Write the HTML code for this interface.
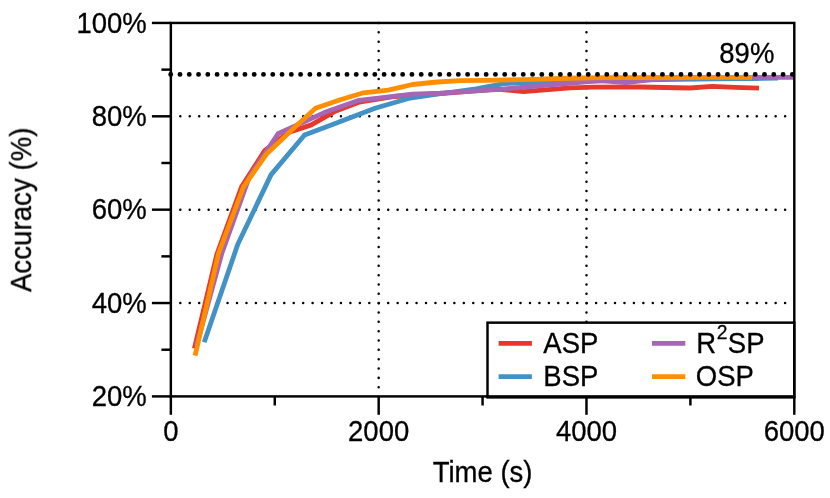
<!DOCTYPE html>
<html><head><meta charset="utf-8"><title>chart</title>
<style>html,body{margin:0;padding:0;background:#fff;}body{width:830px;height:498px;overflow:hidden;position:relative;font-family:"Liberation Sans",sans-serif;}</style>
</head><body>
<svg width="830" height="498" viewBox="0 0 830 498" style="position:absolute;left:0;top:0;display:block;will-change:transform">
<rect width="830" height="498" fill="#fff"/>
<line x1="170.85" y1="116.31" x2="794.3" y2="116.31" stroke="#000" stroke-width="2.5" stroke-linecap="round" stroke-dasharray="0.01 9.44"/>
<line x1="170.85" y1="209.67" x2="794.3" y2="209.67" stroke="#000" stroke-width="2.5" stroke-linecap="round" stroke-dasharray="0.01 9.44"/>
<line x1="170.85" y1="303.04" x2="794.3" y2="303.04" stroke="#000" stroke-width="2.5" stroke-linecap="round" stroke-dasharray="0.01 9.44"/>
<line x1="378.67" y1="22.95" x2="378.67" y2="396.4" stroke="#000" stroke-width="2.5" stroke-linecap="round" stroke-dasharray="0.01 9.33"/>
<line x1="586.48" y1="22.95" x2="586.48" y2="396.4" stroke="#000" stroke-width="2.5" stroke-linecap="round" stroke-dasharray="0.01 9.33"/>
<clipPath id="c"><rect x="170.85" y="22.95" width="623.4499999999999" height="373.45"/></clipPath>
<g clip-path="url(#c)" fill="none" stroke-width="4.8" stroke-linejoin="round" stroke-linecap="butt">
<polyline points="194.4,348.6 216.9,254.3 241.6,186.8 264.9,150.4 288.5,132.5 311.3,124.9 334.5,111.6 359.0,102.2 395.0,96.5 447.0,93.2 497.0,89.2 523.6,91.6 570.0,87.8 593.7,87.2 640.0,87.0 690.0,88.0 712.0,86.4 735.0,87.4 759.0,88.1" stroke="#E8382B"/>
<polyline points="204.2,342.3 237.8,244.3 271.1,174.6 304.6,135.0 338.5,122.2 375.0,108.2 408.5,98.5 442.0,93.5 476.0,88.8 504.0,83.6 542.0,82.0 576.0,81.3 610.0,80.7 644.0,79.8 680.0,79.4 715.0,78.9 752.0,78.5 778.0,78.2" stroke="#4292C6"/>
<polyline points="196.4,346.0 221.6,254.0 249.5,176.5 278.0,133.8 324.3,112.6 359.0,100.3 412.5,94.1 440.0,93.2 500.0,89.4 560.0,84.0 600.0,80.7 626.0,82.5 660.0,78.6 700.0,77.6 794.0,77.4" stroke="#A665B5"/>
<polyline points="195.1,355.6 218.5,253.5 243.4,187.0 266.3,154.3 291.0,130.8 315.5,108.3 340.3,99.7 363.6,92.8 388.2,90.2 412.6,84.5 437.0,82.0 460.6,80.6 485.5,80.3 509.7,79.9 534.0,79.3 558.0,78.5 582.0,78.0 606.0,77.7 631.0,77.6 655.0,77.5 679.0,77.5 703.0,77.4 728.0,77.4 752.0,77.4" stroke="#FF8F00"/>
</g>
<rect x="487.5" y="322.65" width="306.79999999999995" height="74.75" fill="#fff" stroke="#000" stroke-width="2.45"/>
<line x1="498.6" y1="343.4" x2="531.9" y2="343.4" stroke="#E8382B" stroke-width="4.9"/>
<line x1="498.6" y1="376.6" x2="531.9" y2="376.6" stroke="#4292C6" stroke-width="4.9"/>
<line x1="652.0" y1="343.4" x2="685.3" y2="343.4" stroke="#A665B5" stroke-width="4.9"/>
<line x1="652.0" y1="376.6" x2="685.3" y2="376.6" stroke="#FF8F00" stroke-width="4.9"/>
<rect x="170.85" y="22.95" width="623.4499999999999" height="373.45" fill="none" stroke="#000" stroke-width="2.45"/>
<line x1="151.9" y1="22.95" x2="170.85" y2="22.95" stroke="#000" stroke-width="2.45"/>
<line x1="151.9" y1="116.31" x2="170.85" y2="116.31" stroke="#000" stroke-width="2.45"/>
<line x1="151.9" y1="209.67" x2="170.85" y2="209.67" stroke="#000" stroke-width="2.45"/>
<line x1="151.9" y1="303.04" x2="170.85" y2="303.04" stroke="#000" stroke-width="2.45"/>
<line x1="151.9" y1="396.40" x2="170.85" y2="396.40" stroke="#000" stroke-width="2.45"/>
<line x1="161.4" y1="69.63" x2="170.85" y2="69.63" stroke="#000" stroke-width="2.45"/>
<line x1="161.4" y1="162.99" x2="170.85" y2="162.99" stroke="#000" stroke-width="2.45"/>
<line x1="161.4" y1="256.36" x2="170.85" y2="256.36" stroke="#000" stroke-width="2.45"/>
<line x1="161.4" y1="349.72" x2="170.85" y2="349.72" stroke="#000" stroke-width="2.45"/>
<line x1="170.85" y1="396.4" x2="170.85" y2="414.8" stroke="#000" stroke-width="2.45"/>
<line x1="378.67" y1="396.4" x2="378.67" y2="414.8" stroke="#000" stroke-width="2.45"/>
<line x1="586.48" y1="396.4" x2="586.48" y2="414.8" stroke="#000" stroke-width="2.45"/>
<line x1="794.30" y1="396.4" x2="794.30" y2="414.8" stroke="#000" stroke-width="2.45"/>
<line x1="274.76" y1="396.4" x2="274.76" y2="405.5" stroke="#000" stroke-width="2.45"/>
<line x1="482.57" y1="396.4" x2="482.57" y2="405.5" stroke="#000" stroke-width="2.45"/>
<line x1="690.39" y1="396.4" x2="690.39" y2="405.5" stroke="#000" stroke-width="2.45"/>
<line x1="170.7" y1="74.4" x2="794.3" y2="74.4" stroke="#000" stroke-width="4.9" stroke-linecap="round" stroke-dasharray="0.01 9.268"/>
<g opacity="0.999" font-family="Liberation Sans, sans-serif" font-size="27.5px" fill="#000" stroke="#000" stroke-width="0.3">
<text transform="translate(146.70,32.50) scale(1,1.04)" text-anchor="end">100%</text>
<text transform="translate(146.70,125.86) scale(1,1.04)" text-anchor="end">80%</text>
<text transform="translate(146.70,219.22) scale(1,1.04)" text-anchor="end">60%</text>
<text transform="translate(146.70,312.59) scale(1,1.04)" text-anchor="end">40%</text>
<text transform="translate(146.70,405.95) scale(1,1.04)" text-anchor="end">20%</text>
<text transform="translate(170.85,440.50) scale(1,1.04)" text-anchor="middle">0</text>
<text transform="translate(378.67,440.50) scale(1,1.04)" text-anchor="middle">2000</text>
<text transform="translate(586.48,440.50) scale(1,1.04)" text-anchor="middle">4000</text>
<text transform="translate(794.30,440.50) scale(1,1.04)" text-anchor="middle">6000</text>
<text transform="translate(482.60,481.60) scale(1,1.04)" text-anchor="middle">Time (s)</text>
<text letter-spacing="0.1" transform="translate(31.10,209.70) rotate(-90) scale(1,1.04)" text-anchor="middle">Accuracy (%)</text>
<text transform="translate(719.30,62.60) scale(1,1.04)">89%</text>
<text transform="translate(543.30,353.10) scale(1,1.04)">ASP</text>
<text transform="translate(543.30,386.30) scale(1,1.04)">BSP</text>
<text transform="translate(696.30,353.10) scale(1,1.04)">R<tspan font-size="19.25px" dy="-13.3" dx="0.6">2</tspan><tspan dy="13.3" dx="0.4">SP</tspan></text>
<text transform="translate(695.80,386.30) scale(1,1.04)">OSP</text>
</g>
</svg>
</body></html>
